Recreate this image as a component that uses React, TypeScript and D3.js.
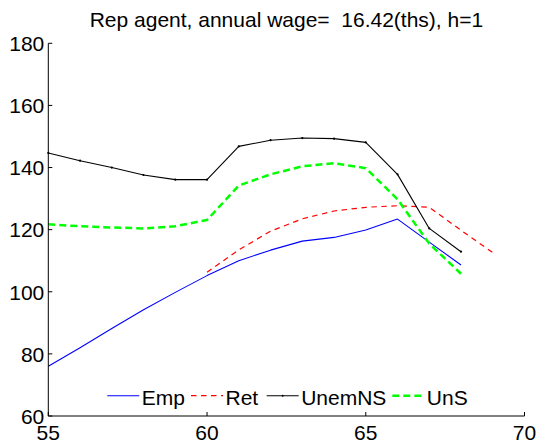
import React from "react";
import * as d3 from "d3";

const ages = [55, 56, 57, 58, 59, 60, 61, 62, 63, 64, 65, 66, 67, 68, 69];
const empAges = [55, 56, 57, 58, 59, 60, 61, 62, 63, 64, 65, 66, 67, 68];
const empValues = [76, 82, 88.2, 94.2, 99.8, 105.2, 110, 113.4, 116.3, 117.5, 119.9, 123.4, 116, 108.6];
const retAges = [60, 61, 62, 63, 64, 65, 66, 67, 68, 69];
const retValues = [106.3, 113.5, 119.5, 123.5, 126, 127.2, 127.7, 127.2, 119.8, 112.6];
const unemNSValues = [144.7, 142.2, 140, 137.6, 136.1, 136.1, 146.8, 148.8, 149.5, 149.3, 148.1, 137.8, 120.4, 112.9];
const unSValues = [121.7, 121.1, 120.7, 120.4, 121.1, 123.1, 134.2, 137.8, 140.4, 141.4, 139.8, 129.8, 115.5, 105.8];
const xTicks = [55, 60, 65, 70];
const yTicks = [60, 80, 100, 120, 140, 160, 180];
const legendLabels = ["Emp", "Ret", "UnemNS", "UnS"];
const titleText = "Rep agent, annual wage=  16.42(ths), h=1";

const W = 537;
const H = 443;
const FONT = "'Liberation Sans', Arial, Helvetica, sans-serif";

export default function App() {
  const x = d3.scaleLinear().domain([55, 70]).range([48.3, 524.5]);
  const y = d3.scaleLinear().domain([60, 180]).range([416, 43.3]);
  const line = d3
    .line<[number, number]>()
    .x((d) => x(d[0]))
    .y((d) => y(d[1]));

  const series = [
    { name: legendLabels[0], xs: empAges, ys: empValues, color: "#0000ff", width: 1.1, dash: undefined as string | undefined, marker: false },
    { name: legendLabels[1], xs: retAges, ys: retValues, color: "#ff0000", width: 1.2, dash: "5.5,4.5", marker: false },
    { name: legendLabels[2], xs: empAges, ys: unemNSValues, color: "#000000", width: 1.1, dash: undefined, marker: true },
    { name: legendLabels[3], xs: empAges, ys: unSValues, color: "#00ff00", width: 2.5, dash: "7,4", marker: false },
  ];

  const legendStarts = [107.3, 191, 266.7, 392.3];
  const legendLineLen = 32;
  const legendY = 395.7;
  const tickLen = 4;
  const x0 = x(55);
  const y0 = y(60);

  return (
    <div style={{ position: "absolute", left: 0, top: 0 }}>
      <svg width={W} height={H} style={{ display: "block", background: "#fff" }} fontFamily={FONT}>
        <rect x={0} y={0} width={W} height={H} fill="#fff" />
        {series.map((s) => {
          const pts = s.xs.map((a, i) => [a, s.ys[i]] as [number, number]);
          return (
            <g key={s.name}>
              <path
                d={line(pts) || ""}
                fill="none"
                stroke={s.color}
                strokeWidth={s.width}
                strokeDasharray={s.dash}
                strokeLinejoin="round"
              />
              {s.marker &&
                pts.map((p, i) => (
                  <circle key={i} cx={x(p[0])} cy={y(p[1])} r={1.1} fill={s.color} />
                ))}
            </g>
          );
        })}
        <line x1={x0} y1={y(180)} x2={x0} y2={y0} stroke="#000" strokeWidth={1} />
        <line x1={x0} y1={y0} x2={x(70)} y2={y0} stroke="#000" strokeWidth={1} />
        {yTicks.map((t) => (
          <g key={"y" + t}>
            <line x1={x0} x2={x0 + tickLen} y1={y(t)} y2={y(t)} stroke="#000" strokeWidth={1} />
            <text x={x0 - 4} y={y(t) + 7.8} textAnchor="end" fontSize={21} fill="#000">
              {t}
            </text>
          </g>
        ))}
        {xTicks.map((t) => (
          <g key={"x" + t}>
            <line x1={x(t)} x2={x(t)} y1={y0} y2={y0 - tickLen} stroke="#000" strokeWidth={1} />
            <text x={x(t)} y={440} textAnchor="middle" fontSize={21} fill="#000">
              {t}
            </text>
          </g>
        ))}
        <text x={(x(55) + x(70)) / 2} y={26.7} textAnchor="middle" fontSize={21} fill="#000" style={{ whiteSpace: "pre" }}>
          {titleText}
        </text>
        {series.map((s, i) => {
          const lx = legendStarts[i];
          return (
            <g key={"lg" + s.name}>
              <line
                x1={lx}
                x2={lx + legendLineLen}
                y1={legendY}
                y2={legendY}
                stroke={s.color}
                strokeWidth={s.width}
                strokeDasharray={s.dash}
              />
              {s.marker && <circle cx={lx + legendLineLen / 2} cy={legendY} r={1} fill={s.color} />}
              <text x={lx + legendLineLen + 2.5} y={405} fontSize={21} fill="#000">
                {s.name}
              </text>
            </g>
          );
        })}
      </svg>
    </div>
  );
}
